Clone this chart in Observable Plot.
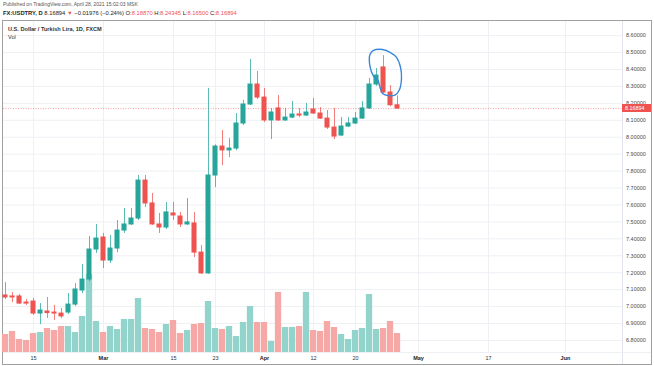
<!DOCTYPE html>
<html>
<head>
<meta charset="utf-8">
<script src="https://cdn.jsdelivr.net/npm/d3@7"></script>
<script src="https://cdn.jsdelivr.net/npm/@observablehq/plot@0.6"></script>
<style>
  html, body { margin: 0; padding: 0; background: #fff; }
  #page { position: relative; width: 654px; height: 366px; overflow: hidden; font-family: "Liberation Sans", Arial, sans-serif; }
  .abs { position: absolute; }
  #h1 { left: 3px; top: 1px; font-size: 5px; color: #555; white-space: nowrap; }
  #h2 { left: 3px; top: 10px; font-size: 5.8px; color: #222; white-space: nowrap; }
  #h2 .r { color: #ef5350; }
  #frame { left: 2px; top: 20px; width: 648px; height: 343px; border: 1px solid #a0a0a0; }
  #vsep { left: 622px; top: 21px; width: 1px; height: 343px; background: #e0e3eb; }
  #hsep { left: 3px; top: 352px; width: 648px; height: 1px; background: #eceff4; }
  #title { left: 8px; top: 26px; font-size: 5.6px; font-weight: bold; color: #333; white-space: nowrap; }
  #vol { left: 8px; top: 33.5px; font-size: 5.6px; color: #333; }
  .layer { position: absolute; left: 3px; top: 21px; }
  #plabel { position: absolute; left: 622px; width: 29px; height: 8px; background: #ef5350; color: #fff; font-size: 5.4px; line-height: 8px; text-align: left; padding-left: 3px; box-sizing: border-box; }
</style>
</head>
<body>
<div id="page">
  <div id="h1" class="abs">Published on TradingView.com, April 28, 2021 15:02:03 MSK</div>
  <div id="h2" class="abs"><b>FX:USDTRY, D</b> 8.16894 <span class="r">▼</span> −0.01976 (−0.24%) O:<span class="r">8.18870</span> H:<span class="r">8.24345</span> L:<span class="r">8.16500</span> C:<span class="r">8.16894</span></div>
  <div id="frame" class="abs"></div>
  <div id="vsep" class="abs"></div>
  <div id="hsep" class="abs"></div>
  <div id="layers"></div>
  <div id="title" class="abs">U.S. Dollar / Turkish Lira, 1D, FXCM</div>
  <div id="vol" class="abs">Vol</div>
</div>
<script>
// ---- data ----
const dates = ["2021-02-09","2021-02-10","2021-02-11","2021-02-12","2021-02-15","2021-02-16","2021-02-17","2021-02-18","2021-02-19",
  "2021-02-22","2021-02-23","2021-02-24","2021-02-25","2021-02-26","2021-03-01","2021-03-02","2021-03-03","2021-03-04","2021-03-05",
  "2021-03-08","2021-03-09","2021-03-10","2021-03-11","2021-03-12","2021-03-15","2021-03-16","2021-03-17","2021-03-18","2021-03-19",
  "2021-03-22","2021-03-23","2021-03-24","2021-03-25","2021-03-26","2021-03-29","2021-03-30","2021-03-31","2021-04-01","2021-04-02",
  "2021-04-05","2021-04-06","2021-04-07","2021-04-08","2021-04-09","2021-04-12","2021-04-13","2021-04-14","2021-04-15","2021-04-16",
  "2021-04-19","2021-04-20","2021-04-21","2021-04-22","2021-04-23","2021-04-26","2021-04-27","2021-04-28"];
const open  = [7.066,7.060,7.060,7.024,7.030,6.959,6.971,6.965,6.959,6.965,7.012,7.095,7.160,7.337,7.408,7.272,7.343,7.449,7.485,
  7.520,7.744,7.609,7.485,7.467,7.550,7.532,7.485,7.491,7.319,7.196,7.774,7.945,7.922,7.933,8.081,8.193,8.311,8.234,8.099,
  8.170,8.099,8.116,8.134,8.128,8.164,8.140,8.110,8.057,8.010,8.063,8.081,8.110,8.170,8.311,8.412,8.264,8.18870];
const high  = [7.142,7.083,7.072,7.042,7.048,7.018,7.054,7.007,6.989,7.077,7.136,7.249,7.414,7.485,7.432,7.420,7.508,7.579,7.579,
  7.774,7.774,7.668,7.550,7.615,7.615,7.556,7.638,7.556,7.361,8.288,7.955,8.040,7.992,8.140,8.217,8.459,8.388,8.288,8.170,
  8.246,8.170,8.211,8.170,8.199,8.229,8.175,8.158,8.170,8.116,8.116,8.146,8.211,8.347,8.406,8.482,8.305,8.24345];
const low   = [7.042,7.024,7.012,7.007,6.948,6.894,6.930,6.918,6.930,6.953,7.001,7.077,7.148,7.314,7.225,7.255,7.319,7.432,7.479,
  7.508,7.585,7.479,7.432,7.455,7.508,7.467,7.479,7.290,7.190,7.190,7.703,7.833,7.880,7.920,8.069,8.187,8.223,8.087,7.986,
  8.093,8.093,8.110,8.116,8.122,8.134,8.105,8.046,7.986,8.004,8.057,8.075,8.105,8.164,8.300,8.258,8.180,8.16500];
const close = [7.054,7.054,7.018,7.018,6.959,6.977,6.962,6.959,6.942,7.012,7.101,7.160,7.337,7.402,7.272,7.343,7.449,7.485,7.520,
  7.744,7.609,7.485,7.467,7.556,7.538,7.485,7.497,7.319,7.196,7.774,7.945,7.922,7.933,8.081,8.193,8.311,8.234,8.099,8.146,
  8.099,8.116,8.134,8.128,8.146,8.140,8.110,8.057,8.004,8.063,8.081,8.110,8.170,8.311,8.364,8.264,8.18870,8.16894];
const volume = [18,21,13,12,19,20,24,22,26,26,20,36,78,31,20,26,23,33,33,54,24,23,20,28,32,19,22,28,29,51,24,23,26,16,30,
  46,30,30,11,60,25,25,26,60,22,21,31,25,18,13,22,24,58,23,24,31,19];

// time axis: trading-day positions (bar index) and their labels
const tickIdx    = [4, 14, 24, 30, 37, 44, 50, 59, 69, 80];
const tickLabels = ["15", "Mar", "15", "23", "Apr", "12", "20", "May", "17", "Jun"];
// price axis ticks
const priceTicks = [6.8, 6.9, 7.0, 7.1, 7.2, 7.3, 7.4, 7.5, 7.6, 7.7, 7.8, 7.9, 8.0, 8.1, 8.2, 8.3, 8.4, 8.5, 8.6];

// hand-drawn blue annotation loop (bar index, price)
const loopIdx   = [52.07, 52.57, 53.86, 55.0, 55.86, 56.43, 56.57, 56.29, 55.64, 54.57, 53.86, 53.5, 53.21, 52.57, 52.07];
const loopPrice = [8.488, 8.512, 8.518, 8.500, 8.471, 8.413, 8.347, 8.282, 8.248, 8.246, 8.258, 8.295, 8.335, 8.361, 8.418];

// ---- build tables ----
const bars = dates.map((d, i) => ({i, date: d, open: open[i], high: high[i], low: low[i], close: close[i], vol: volume[i], up: close[i] >= open[i]}));
const loop = loopIdx.map((x, k) => ({x, p: loopPrice[k]}));
const lastClose = close[close.length - 1];

const UP = "#26a69a", DOWN = "#ef5350";
const W = 650, H = 343;
const xDomain = [-2 / 7, 617 / 7];
const yDomain = [6.8 - 12 / 169.4, 6.8 + 319 / 169.4];
const base = {
  width: W, height: H, marginLeft: 0, marginRight: 31, marginTop: 0, marginBottom: 12,
  style: {background: "transparent", fontFamily: "Liberation Sans, Arial, sans-serif", fontSize: "5.5px", color: "#444", overflow: "visible"}
};
const lblOf = d => tickLabels[tickIdx.indexOf(d)];
const monthTicks = tickIdx.filter((d, k) => /^[A-Z]/.test(tickLabels[k]));
const dayTicks = tickIdx.filter((d, k) => !/^[A-Z]/.test(tickLabels[k]));

// layer A: grid + axes
const layerA = Plot.plot({
  ...base,
  x: {domain: xDomain},
  y: {domain: yDomain},
  marks: [
    Plot.gridY(priceTicks, {stroke: "#eef0f4", strokeOpacity: 1}),
    Plot.gridX(tickIdx, {stroke: "#eef0f4", strokeOpacity: 1}),
    Plot.axisY(priceTicks, {anchor: "right", tickSize: 0, tickPadding: 3.5, tickFormat: d3.format(".5f"), label: null, fill: "#4a4a4a", fontSize: 5.5}),
    Plot.axisX(dayTicks, {anchor: "bottom", tickSize: 0, tickPadding: 3.5, tickFormat: lblOf, label: null, fill: "#333", fontSize: 5.5}),
    Plot.axisX(monthTicks, {anchor: "bottom", tickSize: 0, tickPadding: 3.5, tickFormat: lblOf, label: null, fill: "#222", fontSize: 5.5, fontWeight: "bold"})
  ]
});

// layer B: volume
const layerB = Plot.plot({
  ...base,
  x: {domain: xDomain, axis: null},
  y: {domain: [0, 331], axis: null},
  marks: [
    Plot.rectY(bars, {x1: d => d.i - 0.45, x2: d => d.i + 0.45, y: "vol", fill: d => d.up ? "#92d3cc" : "#f6a8a6"})
  ]
});

// layer C: candles, price line, annotation
const layerC = Plot.plot({
  ...base,
  x: {domain: xDomain, axis: null},
  y: {domain: yDomain, axis: null},
  marks: [
    Plot.ruleY([lastClose], {stroke: DOWN, strokeOpacity: 0.55, strokeDasharray: "1,1.5"}),
    Plot.ruleX(bars, {x: "i", y1: "low", y2: "high", stroke: d => d.up ? UP : DOWN, strokeOpacity: 0.75, strokeWidth: 1}),
    Plot.rect(bars, {x1: d => d.i - 0.36, x2: d => d.i + 0.36, y1: "open", y2: "close", fill: d => d.up ? UP : DOWN, insetTop: -0.5, insetBottom: -0.5}),
    Plot.line(loop, {x: "x", y: "p", curve: "catmull-rom-closed", stroke: "#3b88d8", strokeWidth: 1.4})
  ]
});

const host = document.getElementById("layers");
for (const svg of [layerA, layerB, layerC]) {
  svg.classList.add("layer");
  host.appendChild(svg);
}

// last-price label on the price axis, placed with the plot's own y scale
const py = layerC.scale("y").apply(lastClose);
const lab = document.createElement("div");
lab.id = "plabel";
lab.style.top = (21 + py - 4) + "px";
lab.textContent = d3.format(".5f")(lastClose);
document.getElementById("page").appendChild(lab);
</script>
</body>
</html>
